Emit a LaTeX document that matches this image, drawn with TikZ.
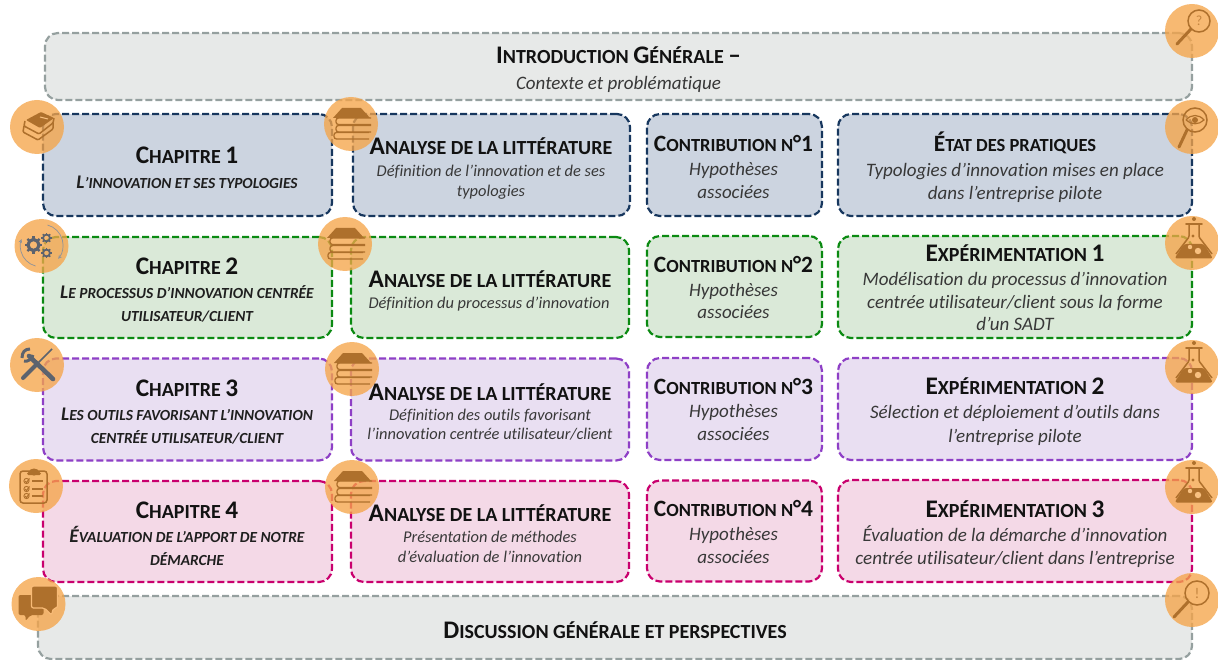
\documentclass[tikz,border=0pt]{standalone}
\usepackage{fontspec}
\setmainfont{Carlito}[Ligatures=CommonOff]
\definecolor{navyL}{HTML}{17375E}\definecolor{navyF}{HTML}{CCD4E0}
\definecolor{greenL}{HTML}{0B8A12}\definecolor{greenF}{HTML}{DAE9D8}
\definecolor{purpL}{HTML}{8E3FC6}\definecolor{purpF}{HTML}{E9DFF2}
\definecolor{pinkL}{HTML}{C9006E}\definecolor{pinkF}{HTML}{F4D9E7}
\definecolor{greyL}{HTML}{95A09F}\definecolor{greyF}{HTML}{E7E9E8}
\definecolor{circ}{HTML}{F5A54A}\definecolor{brn}{HTML}{AE702C}
\definecolor{slt}{HTML}{5C636E}
\newcommand\Bg[1]{{\fontsize{\bgsize}{\bgsize}\selectfont #1}}
\newcommand\Bs[1]{{\fontsize{19.3}{19.3}\selectfont #1}}
\tikzset{
 x=1pt,y=-1pt,
 box/.style={draw,rounded corners=13pt,line width=2.2pt,dash pattern=on 7pt off 3pt,inner sep=0,minimum height=#1},
 navy/.style={draw=navyL,fill=navyF},
 grn/.style={draw=greenL,fill=greenF},
 purp/.style={draw=purpL,fill=purpF},
 pnk/.style={draw=pinkL,fill=pinkF},
 gry/.style={draw=greyL,fill=greyF},
 hd/.style={anchor=base,inner sep=0,text=black!93,font=\def\bgsize{25.3}\bfseries\fontsize{20}{20}\selectfont},
 hn/.style={anchor=base,inner sep=0,text=black!93,font=\def\bgsize{23.4}\bfseries\fontsize{18.5}{18.5}\selectfont},
 cs/.style={anchor=base,inner sep=0,text=black!88,font=\bfseries\itshape\fontsize{15.4}{15.4}\selectfont},
 bd/.style={anchor=base,inner sep=0,text=black!78,font=\itshape\fontsize{19}{19}\selectfont},
 bs/.style={anchor=base,inner sep=0,text=black!78,font=\itshape\fontsize{16.4}{16.4}\selectfont},
 ic/.style={circle,fill=circ,fill opacity=.78,inner sep=0,minimum size=54pt},
}
\newcommand\books[1]{\begin{scope}[shift={(#1)},brn]
 \fill (-18,-6) -- (-9,-16) -- (10,-16) -- (19,-6) -- cycle;
 \draw[line width=1.3pt,rounded corners=2.5pt] (20,-6) -- (-15,-6) -- (-15,0.5) -- (20,0.5);
 \draw[line width=1.3pt,rounded corners=2.5pt] (20,1.5) -- (-15,1.5) -- (-15,8) -- (20,8);
 \draw[line width=1.3pt,rounded corners=2.5pt] (18,8.5) -- (-17,8.5) -- (-17,15) -- (18,15);
\end{scope}}
\newcommand\flask[1]{\begin{scope}[shift={(#1)},brn]
 \fill (2,-24) circle (2);
 \draw[line width=1.6pt,line cap=round] (-6,-19) -- (10,-19);
 \draw[line width=1.5pt,rounded corners=1pt] (-3,-19) -- (-3,-6) -- (-16,11);
 \draw[line width=1.5pt,rounded corners=1pt] (7,-19) -- (7,-6) -- (20,11);
 \fill[rounded corners=2.5pt] (-8,1) -- (12,1) -- (21,15.5) -- (-17.5,15.5) -- cycle;
 \fill[circ!70!white] (-2,4) circle (2.2);
 \fill[circ!70!white] (6,8) circle (3.2);
 \fill (1,-7) circle (1.6);
\end{scope}}
\newcommand\gear[3]{\begin{scope}[shift={(#1)}]
 \draw[slt,line width=#3pt] (0,0) circle (#2);
 \foreach \a in {0,45,...,315}{\fill[slt,rotate=\a] (-.22*#2,-1.05*#2) rectangle (.22*#2,-1.55*#2);}
\end{scope}}
\begin{document}
\begin{tikzpicture}
\useasboundingbox (0,0) rectangle (1218,660);
% boxes
\node[box=67pt,gry,minimum width=1147pt] (intro) at (618.5,66.5) {};
\node[box=63pt,gry,minimum width=1154pt] (disc) at (615,627.5) {};
\node[box=102pt,navy,minimum width=289pt] (c1) at (187.5,165) {};
\node[box=102pt,navy,minimum width=277pt] (l1) at (491.5,165) {};
\node[box=102pt,navy,minimum width=175pt] (n1) at (734.5,165) {};
\node[box=102pt,navy,minimum width=354pt] (r1) at (1015,165) {};
\node[box=101pt,grn,minimum width=289pt] (c2) at (187.5,287.5) {};
\node[box=101pt,grn,minimum width=278pt] (l2) at (490,287.5) {};
\node[box=101pt,grn,minimum width=175pt] (n2) at (734.5,286.5) {};
\node[box=102pt,grn,minimum width=354pt] (r2) at (1015,287) {};
\node[box=102pt,purp,minimum width=289pt] (c3) at (187.5,409.5) {};
\node[box=102pt,purp,minimum width=278pt] (l3) at (490,409.5) {};
\node[box=102pt,purp,minimum width=175pt] (n3) at (734.5,409) {};
\node[box=102pt,purp,minimum width=354pt] (r3) at (1015,409) {};
\node[box=101pt,pnk,minimum width=289pt] (c4) at (187.5,531.5) {};
\node[box=101pt,pnk,minimum width=278pt] (l4) at (490,531.5) {};
\node[box=101pt,pnk,minimum width=175pt] (n4) at (734.5,531) {};
\node[box=102pt,pnk,minimum width=354pt] (r4) at (1015,531) {};
% icon discs
\node[ic] (ia) at (1192,31) {};
\node[ic] (ib) at (37,127) {};
\node[ic] (ic) at (351,124) {};
\node[ic] (id) at (1192,127) {};
\node[ic] (ie) at (41.5,246) {};
\node[ic] (if) at (345,244) {};
\node[ic] (ig) at (1192,243) {};
\node[ic] (ih) at (37,365) {};
\node[ic] (ii) at (352,369) {};
\node[ic] (ij) at (1192,367) {};
\node[ic] (ik) at (36,486) {};
\node[ic] (il) at (352,487) {};
\node[ic] (im) at (1192,487) {};
\node[ic] (in) at (38.5,604) {};
\node[ic] (io) at (1192,600) {};
% icons
\books{ic}\books{if}\books{ii}\books{il}
\flask{ig}\flask{ij}\flask{im}
% magnifier ?
\begin{scope}[shift={(ia)},brn]
 \draw[line width=1.5pt] (7,-10) circle (11);
 \draw[line width=3pt,line cap=round] (-1,-2) -- (-15,13);
 \node[inner sep=0,font=\fontsize{14}{14}\selectfont,text opacity=.7] (qm) at (7,-10) {?};
\end{scope}
% magnifier eye
\begin{scope}[shift={(id)},brn]
 \draw[line width=1.5pt] (3,-7) circle (12);
 \draw[line width=3pt,line cap=round] (-5,3) -- (-13,20);
 \draw[line width=1.2pt] (-6,-7) .. controls (-1,-13) and (7,-13) .. (12,-7) .. controls (7,-2) and (-1,-2) .. (-6,-7);
 \fill (3,-7) circle (3);
\end{scope}
% magnifier !
\begin{scope}[shift={(io)},brn]
 \draw[line width=1.5pt] (5,-7) circle (12);
 \draw[line width=3pt,line cap=round] (-4,2) -- (-18,17);
 \node[inner sep=0,font=\fontsize{15}{15}\selectfont,text opacity=.7] (em) at (5,-7) {!};
\end{scope}
% stacked books chapter 1
\begin{scope}[shift={(ib)},brn,rounded corners=1pt]
 \fill (-11,-7) -- (4,-15) -- (17,-9) -- (3,1) -- cycle;
 \draw[line width=1.5pt] (-12,-6) -- (-13,-1) -- (2,7) -- (16,-4) -- (17,-9);
 \draw[line width=1.5pt] (-13,-1) -- (-14,5) -- (1,13) -- (16,2) -- (16,-4);
 \draw[circ!70!white,line width=1pt] (3,-10) -- (11,-8);
\end{scope}
% gears
\begin{scope}[shift={(ie)}]
 \gear{-8,-1}{5.5}{3.2}\gear{5,-8}{3.4}{1.8}\gear{5,7}{3.4}{1.8}
 \draw[slt!70,line width=.7pt,-stealth] (-6,20) arc[start angle=105,end angle=200,radius=20.5];
 \draw[slt!70,line width=.7pt,-stealth] (6,-21) arc[start angle=-75,end angle=40,radius=21];
\end{scope}
% tools
\begin{scope}[shift={(ih)},slt]
 \draw[line width=4.6pt,line cap=round] (-8,-9) -- (16,14);
 \draw[line width=4pt,line cap=round] (-14,13) -- (0,-1);
 \draw[line width=1.6pt] (0,-1) -- (15,-16);
 \draw[line width=3pt] (-15,-7) .. controls (-15,-13) and (-12,-16) .. (-7,-16);
 \draw[line width=3pt] (-13,-4) .. controls (-9,-3) and (-5,-6) .. (-4,-10);
\end{scope}
% clipboard
\begin{scope}[shift={(ik)},brn]
 \draw[line width=1.5pt,rounded corners=3pt] (-16,-15) rectangle (11,17);
 \fill[rounded corners=1.5pt] (-9,-14) rectangle (5,-11);
 \fill (-2,-14) ellipse (5 and 3.5);
 \foreach \yy in {-5,3,10}{
  \draw[line width=1.4pt] (-4,\yy) -- (7,\yy);
  \draw[line width=.9pt] (-9.5,\yy) circle (2.6);
  \draw[line width=1pt] (-11,\yy) -- (-9.5,\yy+1.5) -- (-6.5,\yy-2.5);}
\end{scope}
% chat
\begin{scope}[shift={(in)},brn]
 \fill[rounded corners=2pt] (-20,-9) -- (5,-9) -- (5,11) -- (-8,11) -- (-13,17) -- (-13,11) -- (-20,11) -- cycle;
 \fill[draw=circ!75!white,line width=1.2pt,rounded corners=2pt] (-7,-18) -- (19,-18) -- (19,4) -- (15,4) -- (13,11) -- (6,4) -- (-7,4) -- cycle;
\end{scope}
% texts
\begin{scope}[shift={(0,1.6)}]
\node[hd] (t0a) at (618.5,62) {\Bg{I}NTRODUCTION \Bg{G}ÉNÉRALE \Bg{–}};
\node[bd] (t0b) at (618.5,88) {Contexte et problématique};
\node[hd] (t1a) at (187,162) {\Bg{C}HAPITRE \Bg{1}};
\node[cs] (t1b) at (187,187) {\Bs{L}’INNOVATION ET SES TYPOLOGIES};
\node[hd] (t2a) at (187,273) {\Bg{C}HAPITRE \Bg{2}};
\node[cs] (t2b) at (187,297) {\Bs{L}E PROCESSUS D’INNOVATION CENTRÉE};
\node[cs] (t2c) at (187,320) {UTILISATEUR/CLIENT};
\node[hd] (t3a) at (187,395) {\Bg{C}HAPITRE \Bg{3}};
\node[cs] (t3b) at (187,419) {\Bs{L}ES OUTILS FAVORISANT L’INNOVATION};
\node[cs] (t3c) at (187,442) {CENTRÉE UTILISATEUR/CLIENT};
\node[hd] (t4a) at (187,517) {\Bg{C}HAPITRE \Bg{4}};
\node[cs] (t4b) at (187,541) {\Bs{É}VALUATION DE L’APPORT DE NOTRE};
\node[cs] (t4c) at (187,564) {DÉMARCHE};
\node[hd] (u1a) at (491,153) {\Bg{A}NALYSE DE LA LITTÉRATURE};
\node[bs] (u1b) at (491,175) {Définition de l’innovation et de ses};
\node[bs] (u1c) at (491,195) {typologies};
\node[hd] (u2a) at (490,286) {\Bg{A}NALYSE DE LA LITTÉRATURE};
\node[bs] (u2b) at (489,307) {Définition du processus d’innovation};
\node[hd] (u3a) at (490,399) {\Bg{A}NALYSE DE LA LITTÉRATURE};
\node[bs] (u3b) at (490,419) {Définition des outils favorisant};
\node[bs] (u3c) at (490,438) {l’innovation centrée utilisateur/client};
\node[hd] (u4a) at (490,520) {\Bg{A}NALYSE DE LA LITTÉRATURE};
\node[bs] (u4b) at (490,541) {Présentation de méthodes};
\node[bs] (u4c) at (490,561) {d’évaluation de l’innovation};
\node[hn] (v1a) at (733.5,150) {\Bg{C}ONTRIBUTION N\Bg{°1}};
\node[bd] (v1b) at (733.5,174) {Hypothèses};
\node[bd] (v1c) at (733.5,197) {associées};
\node[hn] (v2a) at (733.5,271) {\Bg{C}ONTRIBUTION N\Bg{°2}};
\node[bd] (v2b) at (733.5,295) {Hypothèses};
\node[bd] (v2c) at (733.5,317) {associées};
\node[hn] (v3a) at (733.5,393) {\Bg{C}ONTRIBUTION N\Bg{°3}};
\node[bd] (v3b) at (733.5,416) {Hypothèses};
\node[bd] (v3c) at (733.5,439) {associées};
\node[hn] (v4a) at (733.5,515) {\Bg{C}ONTRIBUTION N\Bg{°4}};
\node[bd] (v4b) at (733.5,539) {Hypothèses};
\node[bd] (v4c) at (733.5,562) {associées};
\node[hn] (w1a) at (1015,150) {\Bg{É}TAT DES PRATIQUES};
\node[bd] (w1b) at (1015,175) {Typologies d’innovation mises en place};
\node[bd] (w1c) at (1015,198) {dans l’entreprise pilote};
\node[hd] (w2a) at (1015,260) {\Bg{E}XPÉRIMENTATION \Bg{1}};
\node[bd] (w2b) at (1015,283.5) {Modélisation du processus d’innovation};
\node[bd] (w2c) at (1015,306.5) {centrée utilisateur/client sous la forme};
\node[bd] (w2d) at (1015,328.5) {d’un SADT};
\node[hd] (w3a) at (1015,393) {\Bg{E}XPÉRIMENTATION \Bg{2}};
\node[bd] (w3b) at (1015,417) {Sélection et déploiement d’outils dans};
\node[bd] (w3c) at (1015,441) {l’entreprise pilote};
\node[hd] (w4a) at (1015,516) {\Bg{E}XPÉRIMENTATION \Bg{3}};
\node[bd] (w4b) at (1015,540) {Évaluation de la démarche d’innovation};
\node[bd] (w4c) at (1015,563) {centrée utilisateur/client dans l’entreprise};
\node[hd] (d0) at (615,637) {\Bg{D}ISCUSSION GÉNÉRALE ET PERSPECTIVES};
\end{scope}
\end{tikzpicture}
\end{document}
